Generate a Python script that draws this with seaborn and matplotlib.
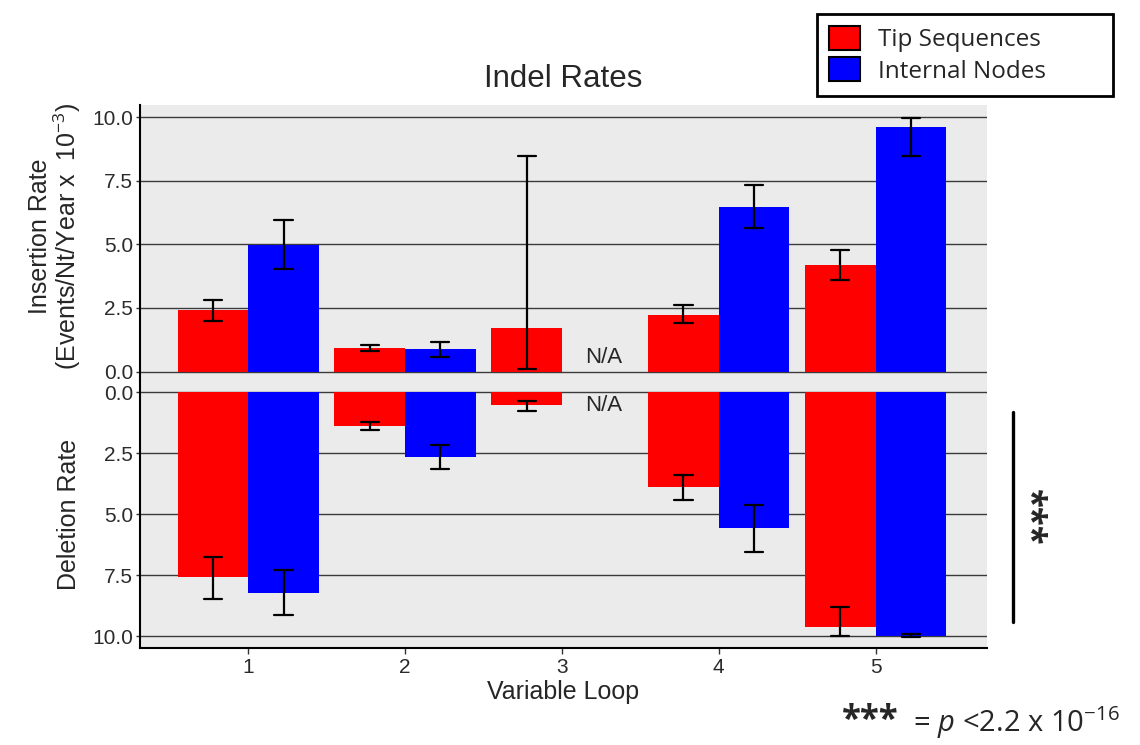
import numpy as np
import pandas as pd
import matplotlib
matplotlib.use("Agg")
import matplotlib.pyplot as plt
from matplotlib.lines import Line2D
import seaborn as sns

loops = ["1", "2", "3", "4", "5"]
groups = ["Tip Sequences", "Internal Nodes"]
colors = {"Tip Sequences": "#FF0000", "Internal Nodes": "#0000FF"}

# insertion rate (events/nt/year x 1e-3), with lower / upper error bar ends
ins_tip = [2.43, 0.92, 1.73, 2.24, 4.19]
ins_tip_lo = [2.00, 0.79, 0.10, 1.89, 3.59]
ins_tip_hi = [2.83, 1.05, 8.47, 2.60, 4.78]
ins_int = [4.98, 0.87, np.nan, 6.47, 9.62]
ins_int_lo = [4.02, 0.58, np.nan, 5.65, 8.49]
ins_int_hi = [5.94, 1.18, np.nan, 7.34, 9.97]

# deletion rate
del_tip = [7.59, 1.38, 0.52, 3.90, 9.62]
del_tip_lo = [6.76, 1.23, 0.36, 3.38, 8.81]
del_tip_hi = [8.47, 1.56, 0.77, 4.40, 9.99]
del_int = [8.22, 2.64, np.nan, 5.57, 10.00]
del_int_lo = [7.29, 2.18, np.nan, 4.61, 9.90]
del_int_hi = [9.14, 3.13, np.nan, 6.55, 10.04]

yticks = [0.0, 2.5, 5.0, 7.5, 10.0]


def long_table(tip, tip_lo, tip_hi, inn, inn_lo, inn_hi):
    # three rows per bar (low, value, high): median -> bar, min/max -> error bar
    rows = []
    for g, parts in zip(groups, [(tip_lo, tip, tip_hi), (inn_lo, inn, inn_hi)]):
        for series in parts:
            for loop, v in zip(loops, series):
                rows.append({"Loop": loop, "Group": g, "Rate": v})
    return pd.DataFrame(rows).dropna()


ins_df = long_table(ins_tip, ins_tip_lo, ins_tip_hi, ins_int, ins_int_lo, ins_int_hi)
del_df = long_table(del_tip, del_tip_lo, del_tip_hi, del_int, del_int_lo, del_int_hi)

sns.set_theme(style="darkgrid", rc={
    "axes.facecolor": "#EBEBEB",
    "grid.color": "#3a3a3a",
    "grid.linewidth": 1.0,
    "axes.edgecolor": "black",
})
plt.rcParams["font.family"] = ["Liberation Sans", "DejaVu Sans"]
plt.rcParams["mathtext.fontset"] = "custom"
plt.rcParams["mathtext.rm"] = "Open Sans"
plt.rcParams["mathtext.it"] = "Open Sans:italic"
plt.rcParams["mathtext.bf"] = "Open Sans:bold"

fig = plt.figure(figsize=(11.4, 7.45), dpi=100)
ax_top = fig.add_axes([0.1228, 0.4886, 0.743, 0.3705])
ax_bot = fig.add_axes([0.1228, 0.1302, 0.743, 0.3584])

bar_kw = dict(x="Loop", y="Rate", hue="Group", order=loops, hue_order=groups,
              palette=colors, saturation=1, estimator="median", errorbar=("pi", 100),
              capsize=0.23, width=0.9, linewidth=0,
              err_kws={"color": "black", "linewidth": 1.6})

sns.barplot(data=ins_df, ax=ax_top, legend=True, **bar_kw)
sns.barplot(data=del_df, ax=ax_bot, legend=False, **bar_kw)

for ax in (ax_top, ax_bot):
    ax.set_xlim(-0.69, 4.71)
    ax.set_yticks(yticks)
    ax.set_yticklabels([f"{t:.1f}" for t in yticks])
    ax.grid(axis="x", visible=False)
    ax.grid(axis="y", visible=True)
    ax.set_axisbelow(True)
    for s in ("top", "right"):
        ax.spines[s].set_visible(False)
    ax.spines["left"].set_linewidth(1.5)
    ax.tick_params(axis="y", labelsize=15, labelcolor="#2b2b2b", length=3,
                   width=1, color="#333333", left=True, pad=2)

ax_top.set_ylim(-0.37, 10.48)
ax_top.spines["bottom"].set_visible(False)
ax_top.tick_params(axis="x", bottom=False, labelbottom=False)
ax_top.set_xlabel("")
ax_top.set_ylabel("Insertion Rate\n(Events/Nt/Year x  10$^{-3}$)", fontsize=18,
                  linespacing=1.0)
ax_top.yaxis.set_label_coords(-0.067, 0.525)
ax_top.set_title("Indel Rates", fontsize=22.5, pad=13)

ax_bot.set_ylim(10.49, -0.46)
ax_bot.spines["bottom"].set_linewidth(1.5)
ax_bot.tick_params(axis="x", labelsize=15, labelcolor="#2b2b2b", length=4,
                   width=1, color="#333333", bottom=True, pad=3)
ax_bot.set_xlabel("Variable Loop", fontsize=18, labelpad=2)
ax_bot.set_ylabel("Deletion Rate", fontsize=18)
ax_bot.yaxis.set_label_coords(-0.07, 0.5)

# N/A markers for the missing internal-node bars of loop 3
na_x = loops.index("3") + 0.225
ax_top.text(na_x + 0.04, 0.54, "N/A", ha="center", va="center", fontsize=16)
ax_bot.text(na_x + 0.04, 0.55, "N/A", ha="center", va="center", fontsize=16)

# legend moved up to the figure corner, fixed-width box
handles, labels = ax_top.get_legend_handles_labels()
ax_top.get_legend().remove()
for h in handles:
    h.set_edgecolor("black")
    h.set_linewidth(1.5)
leg = fig.legend(handles, labels, loc="upper left",
                 bbox_to_anchor=(0.7167, 0.5, 0.2596, 0.4812), mode="expand",
                 frameon=True, fancybox=False, framealpha=1, edgecolor="black",
                 facecolor="white",
                 prop={"family": "Open Sans", "size": 17.5}, handlelength=1.25,
                 handleheight=1.15, handletextpad=0.75, borderpad=0.5,
                 labelspacing=0.2, borderaxespad=0)
leg.get_frame().set_linewidth(2)

# significance bar for deletion rates
fig.add_artist(Line2D([0.8886, 0.8886], [0.165, 0.447], color="black", lw=2.4))
fig.text(0.9016, 0.305, "***", rotation=-90, ha="center", va="center",
         fontsize=25, fontweight="bold", family="Open Sans")

# footnote
fig.text(0.788, 0.032, "***", ha="right", va="center", fontsize=25,
         fontweight="bold", family="Open Sans")
fig.text(0.795, 0.006, r" = $\mathit{p}$ <2.2 x 10$^{-16}$",
         ha="left", va="bottom", fontsize=21, family="Open Sans")

fig.savefig("out.png", dpi=100)
